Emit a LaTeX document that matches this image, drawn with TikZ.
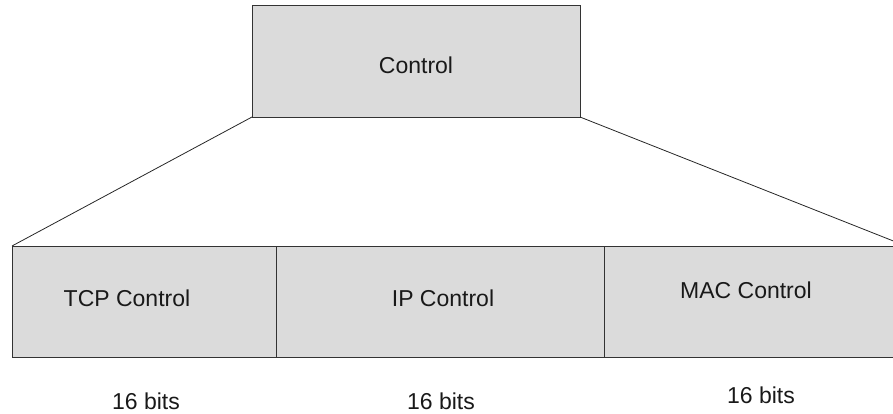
\documentclass[tikz,border=0pt]{standalone}
\usepackage{fontspec}
\setmainfont{Liberation Sans}
\begin{document}
\begin{tikzpicture}[x=1pt,y=-1pt,
  field/.style={draw=black!80, fill=black!14, line width=0.8pt, inner sep=0pt, outer sep=0pt},
  lbl/.style={font=\fontsize{23}{27}\selectfont, text=black!90, anchor=base, inner sep=0pt},
  link/.style={draw=black!85, line width=0.8pt}]
  \useasboundingbox (0,0) rectangle (893,414);
  \clip (0,0) rectangle (893,414);
  % header field
  \node[field, minimum width=328pt, minimum height=112pt, anchor=north west] (ctrl) at (252,5) {};
  \node[lbl] (ctrltext) at (416,74) {Control};
  % expanded sub-fields
  \node[field, minimum width=264pt, minimum height=111pt, anchor=north west] (tcp) at (12,246) {};
  \node[field, minimum width=328pt, minimum height=111pt, anchor=north west] (ip) at (276,246) {};
  \node[field, minimum width=302pt, minimum height=111pt, anchor=north west] (mac) at (604,246) {};
  \node[lbl] (tcptext) at (127,306) {TCP Control};
  \node[lbl] (iptext) at (443,306) {IP Control};
  \node[lbl] (mactext) at (746,298) {MAC Control};
  % widths
  \node[lbl] (tcpbits) at (146,409) {16 bits};
  \node[lbl] (ipbits) at (441,409) {16 bits};
  \node[lbl] (macbits) at (761,403) {16 bits};
  % expansion lines
  \draw[link] (ctrl.south west) -- (tcp.north west);
  \draw[link] (ctrl.south east) -- (mac.north east);
\end{tikzpicture}
\end{document}
